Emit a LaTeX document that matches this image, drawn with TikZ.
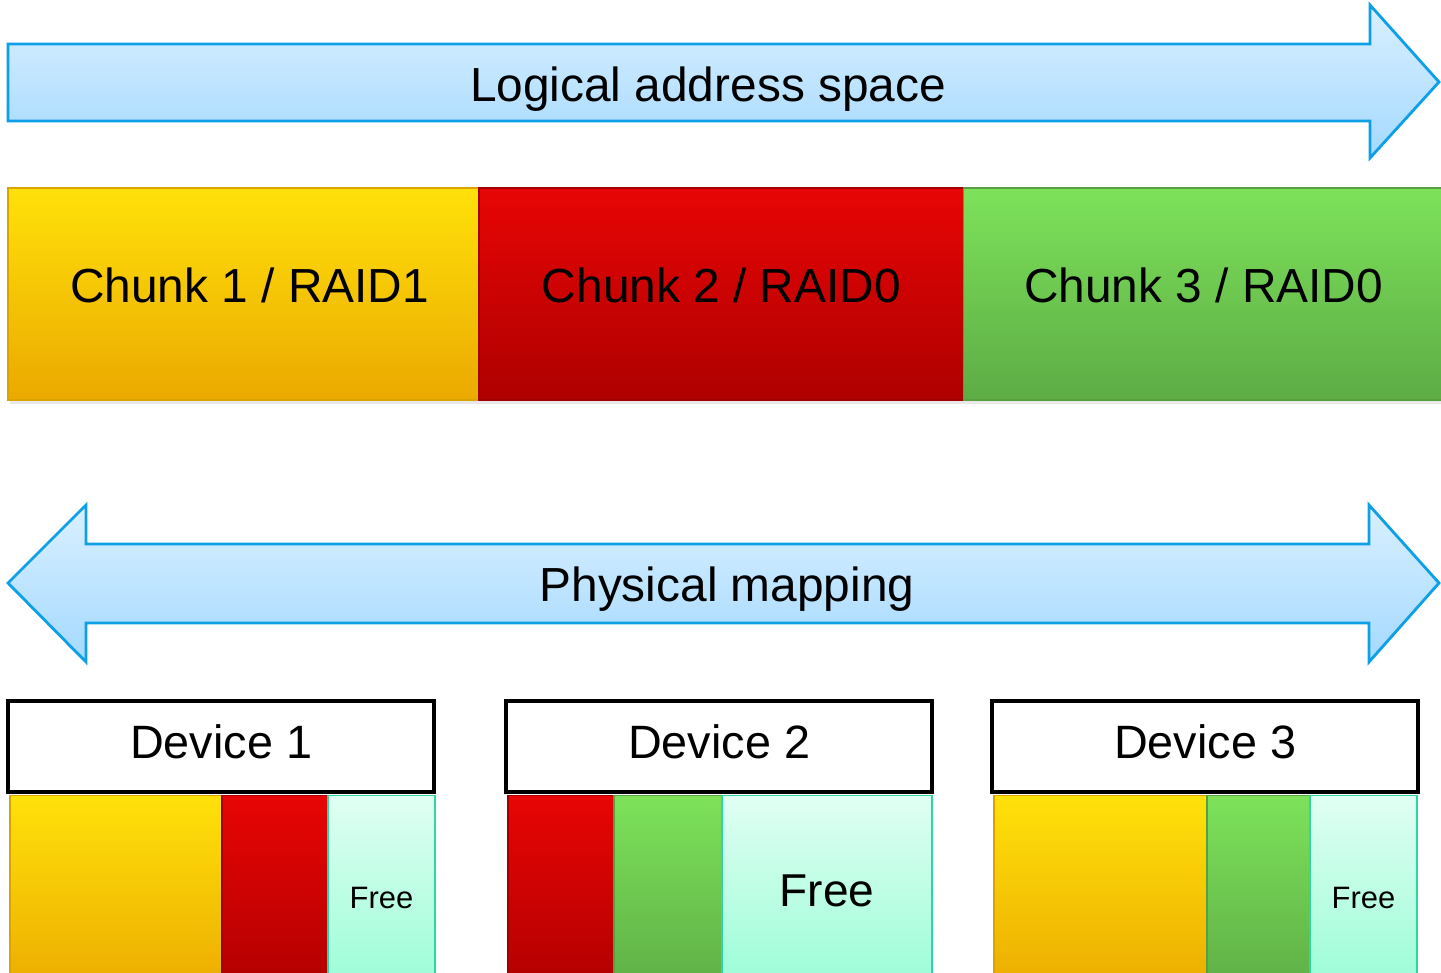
\documentclass[tikz,border=0pt]{standalone}
\usepackage{fontspec}
\setmainfont{Liberation Sans}
\usetikzlibrary{positioning,shadows}
\definecolor{yelT}{HTML}{FFE10A}
\definecolor{yelB}{HTML}{EBA900}
\definecolor{yelD}{HTML}{D9A300}
\definecolor{redT}{HTML}{E80505}
\definecolor{redB}{HTML}{AE0000}
\definecolor{redD}{HTML}{A00000}
\definecolor{grnT}{HTML}{7DE25A}
\definecolor{grnB}{HTML}{5DAC45}
\definecolor{grnD}{HTML}{56A040}
\definecolor{freeT}{HTML}{E0FFF2}
\definecolor{freeB}{HTML}{96FCD6}
\definecolor{freeD}{HTML}{2DD6A3}
\definecolor{arrT}{HTML}{DAF0FF}
\definecolor{arrB}{HTML}{A4D9FF}
\definecolor{arrD}{HTML}{0EA0E6}

\begin{document}
\begin{tikzpicture}[x=0.01cm, y=0.01cm,
    block/.style = {rectangle, inner sep=0pt, outer sep=0pt, line width=0.5pt},
    yellowbox/.style = {block, top color=yelT, bottom color=yelB, draw=yelD},
    redbox/.style = {block, top color=redT, bottom color=redB, draw=redD},
    greenbox/.style = {block, top color=grnT, bottom color=grnB, draw=grnD},
    freebox/.style = {block, top color=freeT, bottom color=freeB, draw=freeD},
    chunk/.style = {minimum height=2.12cm, font=\fontsize{13.6}{16}\selectfont,
        text height=0.36cm, text depth=0.2cm,
        drop shadow={opacity=0.18, shadow xshift=0.6pt, shadow yshift=-1.2pt}},
    device/.style = {block, draw=black, fill=white, line width=1.2pt, minimum width=4.26cm,
        minimum height=0.91cm, font=\fontsize{13.3}{16}\selectfont,
        text height=0.34cm, text depth=0.1cm},
    slot/.style = {minimum height=2.05cm},
    bigarrow/.style = {draw=arrD, line width=0.8pt, top color=arrT, bottom color=arrB},
    label/.style = {font=\fontsize{13.6}{16}\selectfont}
    ]
\useasboundingbox (0,0) rectangle (1441,-973);

% logical address space
\draw[bigarrow] (8,-44) -- (1370,-44) -- (1370,-5) -- (1439,-82) -- (1370,-158)
    -- (1370,-121) -- (8,-121) -- cycle;
\node[label] (logical) at (708,-89) {Logical address space};

\node[yellowbox, chunk, minimum width=4.71cm, anchor=north west] (c1) at (8,-188) {\hspace*{0.12cm}Chunk 1 / RAID1};
\node[redbox, chunk, minimum width=4.84cm, right=0pt of c1] (c2) {Chunk 2 / RAID0};
\node[greenbox, chunk, minimum width=4.80cm, right=0pt of c2] (c3) {Chunk 3 / RAID0};

% physical mapping
\draw[bigarrow] (8,-583) -- (86,-505) -- (86,-544) -- (1369,-544) -- (1369,-505)
    -- (1439,-583) -- (1369,-662) -- (1369,-623) -- (86,-623) -- (86,-662) -- cycle;
\node[label] (physical) at (727,-589) {Physical mapping};

\node[device, anchor=north west] (d1) at (8,-701) {Device 1};
\node[device, anchor=north west] (d2) at (506,-701) {Device 2};
\node[device, anchor=north west] (d3) at (992,-701) {Device 3};

\node[yellowbox, slot, minimum width=2.12cm, below right=1pt and 0.5pt of d1.south west] (d1a) {};
\node[redbox, slot, minimum width=1.06cm, right=0pt of d1a] (d1b) {};
\node[freebox, slot, minimum width=1.07cm, right=0pt of d1b, font=\fontsize{8.8}{10}\selectfont] (d1c) {Free};

\node[redbox, slot, minimum width=1.06cm, below right=1pt and 0.5pt of d2.south west] (d2a) {};
\node[greenbox, slot, minimum width=1.08cm, right=0pt of d2a] (d2b) {};
\node[freebox, slot, minimum width=2.10cm, right=0pt of d2b, font=\fontsize{13.1}{16}\selectfont,
    text depth=0.15cm] (d2c) {Free};

\node[yellowbox, slot, minimum width=2.13cm, below right=1pt and 0.5pt of d3.south west] (d3a) {};
\node[greenbox, slot, minimum width=1.03cm, right=0pt of d3a] (d3b) {};
\node[freebox, slot, minimum width=1.07cm, right=0pt of d3b, font=\fontsize{8.8}{10}\selectfont] (d3c) {Free};
\end{tikzpicture}
\end{document}
